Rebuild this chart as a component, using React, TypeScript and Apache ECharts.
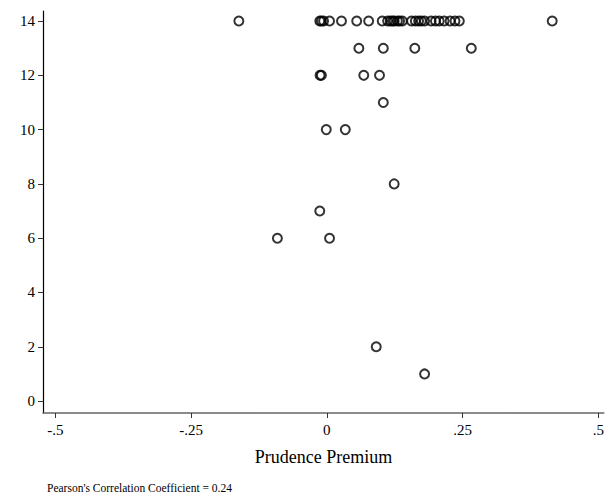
import React, { useEffect, useRef } from "react";
import * as echarts from "echarts";

// Prudence premium (x) vs. count (y)
const row14 = [-0.162, -0.013, -0.01, -0.006, 0.005, 0.027, 0.055, 0.077, 0.102, 0.112, 0.117, 0.121, 0.124, 0.13, 0.134, 0.139, 0.156, 0.163, 0.169, 0.174, 0.18, 0.192, 0.2, 0.207, 0.216, 0.227, 0.236, 0.244, 0.415];
const row13 = [0.059, 0.104, 0.162, 0.266];
const row12 = [-0.0125, -0.01, 0.068, 0.097];
const row11 = [0.104];
const row10 = [-0.001, 0.034];
const row8 = [0.124];
const row7 = [-0.013];
const row6 = [-0.091, 0.005];
const row2 = [0.091];
const row1 = [0.18];

const xTicks = [-0.5, -0.25, 0, 0.25, 0.5];
const xTickLabels = ["-.5", "-.25", "0", ".25", ".5"];
const yTicks = [0, 2, 4, 6, 8, 10, 12, 14];

const rows: [number, number[]][] = [
  [14, row14], [13, row13], [12, row12], [11, row11], [10, row10],
  [8, row8], [7, row7], [6, row6], [2, row2], [1, row1],
];

const FONT = "'Liberation Serif', 'Times New Roman', serif";

export default function App() {
  const ref = useRef<HTMLDivElement>(null);
  useEffect(() => {
    if (!ref.current) return;
    const chart = echarts.init(ref.current, null, { renderer: "svg" });
    const data: number[][] = [];
    rows.forEach(([y, xs]) => xs.forEach((x) => data.push([x, y])));
    chart.setOption({
      animation: false,
      backgroundColor: "#fff",
      grid: { left: 43, right: 2, top: 11, bottom: 86 },
      xAxis: {
        type: "value",
        min: -0.5226,
        max: 0.51,
        name: "Prudence Premium",
        nameLocation: "middle",
        nameGap: 35,
        nameTextStyle: { fontFamily: FONT, fontSize: 18, color: "#000" },
        axisLine: { show: true, onZero: false, lineStyle: { color: "#666", width: 1.5 } },
        axisTick: { show: true, inside: false, length: 5, customValues: xTicks, lineStyle: { color: "#333", width: 1 } },
        axisLabel: {
          customValues: xTicks,
          margin: 9,
          fontFamily: FONT,
          fontSize: 15,
          color: "#000",
          formatter: (v: number) => {
            const i = xTicks.findIndex((t) => Math.abs(t - v) < 1e-9);
            return i >= 0 ? xTickLabels[i] : "";
          },
        },
        splitLine: { show: false },
      },
      yAxis: {
        type: "value",
        min: -0.44,
        max: 14.37,
        axisLine: { show: true, onZero: false, lineStyle: { color: "#000", width: 1.2 } },
        axisTick: { show: true, length: 5, customValues: yTicks, lineStyle: { color: "#333", width: 1 } },
        axisLabel: {
          customValues: yTicks,
          margin: 8,
          fontFamily: FONT,
          fontSize: 15,
          color: "#000",
        },
        splitLine: { show: false },
      },
      series: [
        {
          type: "scatter",
          data,
          symbol: "circle",
          symbolSize: 9,
          itemStyle: { color: "rgba(0,0,0,0)", borderColor: "#000", borderWidth: 2 },
        },
      ],
      graphic: [
        {
          type: "text",
          left: 47,
          top: 482,
          style: {
            text: "Pearson's Correlation Coefficient = 0.24",
            fontFamily: FONT,
            fontSize: 11.5,
            fill: "#000",
          },
        },
      ],
    });
    return () => chart.dispose();
  }, []);
  return (
    <div
      ref={ref}
      style={{ position: "fixed", left: 0, top: 0, width: 607, height: 499 }}
    />
  );
}
